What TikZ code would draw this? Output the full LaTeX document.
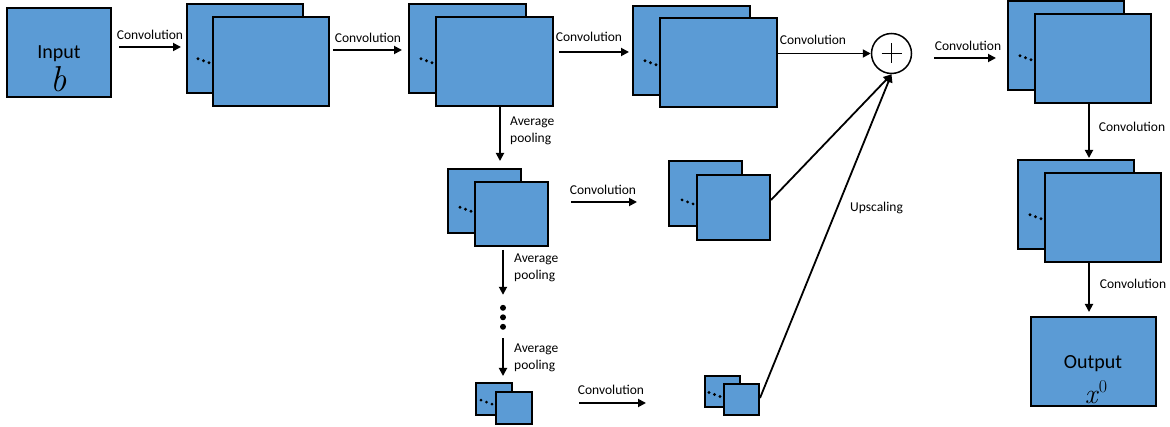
\documentclass[tikz,border=0pt]{standalone}
\usepackage{fontspec}
\setmainfont{Carlito}
\newfontfamily\lmrfont{Latin Modern Roman}
\usetikzlibrary{arrows.meta,calc}
\definecolor{fmblue}{RGB}{91,155,213}
\tikzset{
  fm/.style={draw=black, fill=fmblue, line width=2pt, inner sep=0pt},
  arr/.style={line width=1.8pt, -{Triangle[length=8pt,width=8pt]}},
  lbl/.style={font=\fontsize{13.5}{17}\selectfont, inner sep=0pt},
}
\newcommand\fmstack[7]{%
  \node[fm, minimum width=#4pt, minimum height=#5pt] (#1b) at ({#2+#4/2},{#3+#5/2}) {};
  \foreach \k in {0,1,2} \fill ({#2+#6-15+5.5*\k},{#3+0.66*#5-4+2*\k}) circle[radius=1.6pt];
  \node[fm, minimum width=#4pt, minimum height=#5pt] (#1) at ({#2+#6+#4/2},{#3+#7+#5/2}) {};
}
\begin{document}
\begin{tikzpicture}[x=1pt,y=-1pt]
\useasboundingbox (0,0) rectangle (1170,427);
% input
\node[fm, minimum width=104pt, minimum height=89pt] (in) at (59,52.5) {};
\node[anchor=base, inner sep=0pt, font=\fontsize{20}{20}\selectfont] (intxt) at (59,59) {Input};
\node[anchor=base, inner sep=0pt, font=\lmrfont\itshape\fontsize{36}{36}\selectfont] (bvar) at (59,92) {b};
% stacks
\fmstack{sa}{187}{4}{116}{89}{26}{13}
\fmstack{sb}{409}{4}{117}{89}{27}{13}
\fmstack{sc}{633}{6}{117}{89}{27}{12}
\fmstack{sd}{1008}{1}{116}{89}{27}{13}
\fmstack{se}{1018}{160}{116}{89}{27}{13}
\fmstack{sf}{448}{169}{73}{64}{27}{13}
\fmstack{sg}{669}{161}{73}{65}{28}{14}
\fmstack{sh}{476}{383}{36}{32}{20}{9}
\fmstack{si}{705}{376}{35}{31}{19}{8}
% output
\node[fm, minimum width=125pt, minimum height=89pt] (out) at (1093.5,361.5) {};
\node[anchor=base, inner sep=0pt, font=\fontsize{20}{20}\selectfont] (outtxt) at (1093,369) {Output};
\node[anchor=base, inner sep=0pt, font=\lmrfont\fontsize{28}{28}\selectfont] (xvar) at (1096,403) {\textit{x}\raisebox{11pt}{\fontsize{18}{18}\selectfont 0}};
% plus
\node[circle, draw, line width=1.5pt, minimum size=40pt, inner sep=0pt, fill=white] (plus) at (891.5,53.5) {};
\draw[line width=1.5pt] ($(plus)+(-10,0)$) -- ($(plus)+(10,0)$);
\draw[line width=1.5pt] ($(plus)+(0,-10)$) -- ($(plus)+(0,10)$);
% vertical dots
\node[minimum width=8pt, minimum height=26pt, inner sep=0pt] (vd) at (503,318) {};
\foreach \k in {0,1,2} \fill ($(vd.north)+(0,3+9.5*\k)$) circle[radius=3pt];
% column coordinates
\coordinate (cP) at (500,0);
\coordinate (cQ) at (503,0);
\coordinate (cR) at (1089,0);
% horizontal convolutions
\draw[arr, shorten <=7pt, shorten >=5pt] (in.east |- 0,47) -- (sab.west |- 0,47);
\draw[arr, shorten <=3pt, shorten >=6pt] (sa.east |- 0,50) -- (sbb.west |- 0,50);
\draw[arr, shorten <=5pt, shorten >=3pt] (sb.east |- 0,52) -- (scb.west |- 0,52);
\draw[arr] (sc.east |- plus.west) -- (plus.west);
\draw[arr, shorten <=22pt, shorten >=11pt] (plus.east |- 0,58) -- (sdb.west |- 0,58);
\draw[arr, shorten <=22pt, shorten >=31pt] (sf.east |- 0,202) -- (sgb.west |- 0,202);
\draw[arr, shorten <=46pt, shorten >=58pt] (sh.east |- 0,403) -- (sib.west |- 0,403);
% right column
\draw[arr, shorten >=1pt] (cR |- sd.south) -- (cR |- seb.north);
\draw[arr, shorten >=4pt] (cR |- se.south) -- (cR |- out.north);
% pooling
\draw[arr, shorten >=7pt] (cP |- sb.south) -- (cP |- sfb.north);
\draw[arr, shorten <=3pt, shorten >=10pt] (cQ |- sf.south) -- (cQ |- vd.north);
\draw[arr, shorten <=7pt, shorten >=6pt] (cQ |- vd.south) -- (cQ |- shb.north);
% upscaling
\draw[arr] (sg.east |- 0,200) -- (plus.south);
\draw[arr] (si.east |- 0,398) -- (plus.south);
% labels
\node[lbl] (l1) at (150,35) {Convolution};
\node[lbl] (l2) at (368,38) {Convolution};
\node[lbl] (l3) at (589,37) {Convolution};
\node[lbl] (l4) at (813,40) {Convolution};
\node[lbl] (l5) at (968,46) {Convolution};
\node[lbl] (l6) at (1132,127) {Convolution};
\node[lbl] (l7) at (1133,284) {Convolution};
\node[lbl] (l8) at (603,190) {Convolution};
\node[lbl] (l9) at (611,390) {Convolution};
\node[lbl, anchor=west] (l10) at (850,208) {Upscaling};
\node[lbl, align=left, anchor=west] (p1) at (510,130.5) {Average\\pooling};
\node[lbl, align=left, anchor=west] (p2) at (514,267.5) {Average\\pooling};
\node[lbl, align=left, anchor=west] (p3) at (514,357.5) {Average\\pooling};
\end{tikzpicture}
\end{document}
